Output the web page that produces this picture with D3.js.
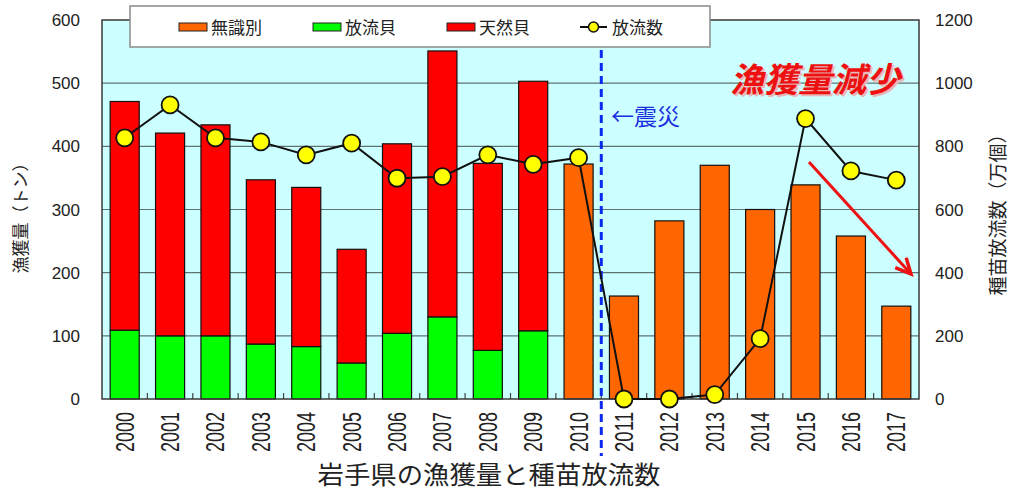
<!DOCTYPE html>
<html>
<head>
<meta charset="utf-8">
<script src="https://cdn.jsdelivr.net/npm/d3@7/dist/d3.min.js"></script>
<style>
  html, body { margin: 0; padding: 0; background: #fff; }
  svg { display: block; }
</style>
</head>
<body>
<svg id="chart" width="1013" height="492"></svg>
<script>
// Years on the category axis
const years = ['2000','2001','2002','2003','2004','2005','2006','2007','2008',
               '2009','2010','2011','2012','2013','2014','2015','2016','2017'];

// Catch (tonnes): released shells (green), wild shells (red), unidentified (orange)
const releasedShells = [109, 100, 100, 87, 83, 57, 104, 130, 77, 108,
                        null, null, null, null, null, null, null, null];
const wildShells     = [362, 321, 334, 260, 252, 180, 300, 421, 296, 395,
                        null, null, null, null, null, null, null, null];
const unidentified   = [null, null, null, null, null, null, null, null, null, null,
                        372, 163, 282, 370, 300, 339, 258, 147];

// Seedlings released (10,000 units)
const releaseCount = [827, 931, 827, 814, 773, 810, 699, 704, 773, 743,
                      764, 0, 0, 14, 191, 888, 722, 693];

const leftTicks  = [0, 100, 200, 300, 400, 500, 600];
const rightTicks = [0, 200, 400, 600, 800, 1000, 1200];

const legendLabels = ['無識別', '放流貝', '天然貝', '放流数'];

const COL_ORANGE = '#ff6600';
const COL_GREEN  = '#00ff00';
const COL_RED    = '#ff0000';
const COL_BG     = '#ccffff';

const svg = d3.select('#chart');
const plot = { left: 102, right: 919, top: 20, bottom: 399 };

const x = d3.scaleBand().domain(years)
  .range([plot.left, plot.right]).paddingInner(0.36).paddingOuter(0.18);
const yL = d3.scaleLinear().domain([0, 600]).range([plot.bottom, plot.top]);
const yR = d3.scaleLinear().domain([0, 1200]).range([plot.bottom, plot.top]);

const NUM_FONT = "'Liberation Sans', Arial, sans-serif";
const JP_FONT = "'Noto Sans CJK JP', 'Noto Sans', sans-serif";

// plot background
svg.append('rect')
  .attr('x', plot.left).attr('y', plot.top)
  .attr('width', plot.right - plot.left).attr('height', plot.bottom - plot.top)
  .attr('fill', COL_BG);

// horizontal gridlines
svg.append('g').selectAll('line')
  .data(leftTicks.filter(d => d > 0 && d < 600))
  .join('line')
  .attr('x1', plot.left).attr('x2', plot.right)
  .attr('y1', d => yL(d)).attr('y2', d => yL(d))
  .attr('stroke', '#5f7373').attr('stroke-width', 1.2);

// category boundary ticks on the bottom edge
const step = x.step();
svg.append('g').selectAll('line')
  .data(years.slice(1))
  .join('line')
  .attr('x1', d => x(d) - step * x.paddingInner() / 2)
  .attr('x2', d => x(d) - step * x.paddingInner() / 2)
  .attr('y1', plot.bottom).attr('y2', plot.bottom - 6)
  .attr('stroke', '#444').attr('stroke-width', 1.2);

// stacked bars
const bars = svg.append('g');
years.forEach((yr, i) => {
  if (releasedShells[i] != null) {
    bars.append('rect')
      .attr('x', x(yr)).attr('width', x.bandwidth())
      .attr('y', yL(releasedShells[i])).attr('height', yL(0) - yL(releasedShells[i]))
      .attr('fill', COL_GREEN).attr('stroke', '#111').attr('stroke-width', 1.2);
  }
  if (wildShells[i] != null) {
    const base = releasedShells[i] || 0;
    bars.append('rect')
      .attr('x', x(yr)).attr('width', x.bandwidth())
      .attr('y', yL(base + wildShells[i])).attr('height', yL(base) - yL(base + wildShells[i]))
      .attr('fill', COL_RED).attr('stroke', '#111').attr('stroke-width', 1.2);
  }
  if (unidentified[i] != null) {
    bars.append('rect')
      .attr('x', x(yr)).attr('width', x.bandwidth())
      .attr('y', yL(unidentified[i])).attr('height', yL(0) - yL(unidentified[i]))
      .attr('fill', COL_ORANGE).attr('stroke', '#111').attr('stroke-width', 1.2);
  }
});

// plot frame
svg.append('rect')
  .attr('x', plot.left).attr('y', plot.top)
  .attr('width', plot.right - plot.left).attr('height', plot.bottom - plot.top)
  .attr('fill', 'none').attr('stroke', '#3a3a3a').attr('stroke-width', 1.5);

// earthquake divider between 2010 and 2011
const quakeX = x('2011') - step * x.paddingInner() / 2;
svg.append('line')
  .attr('x1', quakeX).attr('x2', quakeX)
  .attr('y1', 50).attr('y2', 456)
  .attr('stroke', '#0a2af0').attr('stroke-width', 3)
  .attr('stroke-dasharray', '8,5');

// release count line + markers
const line = d3.line()
  .x((d, i) => x(years[i]) + x.bandwidth() / 2)
  .y(d => yR(d));
svg.append('path')
  .datum(releaseCount)
  .attr('d', line)
  .attr('fill', 'none').attr('stroke', '#111').attr('stroke-width', 2);
svg.append('g').selectAll('circle')
  .data(releaseCount)
  .join('circle')
  .attr('cx', (d, i) => x(years[i]) + x.bandwidth() / 2)
  .attr('cy', d => yR(d))
  .attr('r', 8.5)
  .attr('fill', '#ffff00').attr('stroke', '#111').attr('stroke-width', 1.8);

// left axis labels
svg.append('g').selectAll('text')
  .data(leftTicks)
  .join('text')
  .attr('x', 80).attr('y', d => yL(d) + 6)
  .attr('text-anchor', 'end')
  .attr('font-family', NUM_FONT).attr('font-size', 17).attr('fill', '#222')
  .text(d => d);

// right axis labels
svg.append('g').selectAll('text')
  .data(rightTicks)
  .join('text')
  .attr('x', 935).attr('y', d => yR(d) + 6)
  .attr('text-anchor', 'start')
  .attr('font-family', NUM_FONT).attr('font-size', 17).attr('fill', '#222')
  .text(d => d);

// year labels (rotated)
svg.append('g').selectAll('text')
  .data(years)
  .join('text')
  .attr('transform', d => `translate(${x(d) + x.bandwidth() / 2 + 9},412) rotate(-90)`)
  .attr('text-anchor', 'end')
  .attr('font-family', NUM_FONT).attr('font-size', 25).attr('fill', '#222')
  .attr('textLength', 40).attr('lengthAdjust', 'spacingAndGlyphs')
  .text(d => d);

// axis titles
svg.append('text')
  .attr('transform', 'translate(27,214) rotate(-90)')
  .attr('text-anchor', 'middle')
  .attr('font-family', JP_FONT).attr('font-size', 17).attr('fill', '#222')
  .text('漁獲量（トン）');
svg.append('text')
  .attr('transform', 'translate(1005,210) rotate(-90)')
  .attr('text-anchor', 'middle')
  .attr('font-family', JP_FONT).attr('font-size', 19).attr('fill', '#222')
  .text('種苗放流数（万個）');

// bottom title
svg.append('text')
  .attr('x', 489).attr('y', 484)
  .attr('text-anchor', 'middle')
  .attr('font-family', JP_FONT).attr('font-size', 25).attr('fill', '#222')
  .attr('textLength', 343).attr('lengthAdjust', 'spacingAndGlyphs')
  .text('岩手県の漁獲量と種苗放流数');

// legend
const lg = svg.append('g');
lg.append('rect')
  .attr('x', 130).attr('y', 6).attr('width', 580).attr('height', 41)
  .attr('fill', '#fff').attr('stroke', '#8a8a8a').attr('stroke-width', 1.5);
const legendItems = [
  { label: legendLabels[0], type: 'bar', color: COL_ORANGE, sx: 179 },
  { label: legendLabels[1], type: 'bar', color: COL_GREEN,  sx: 313 },
  { label: legendLabels[2], type: 'bar', color: COL_RED,    sx: 447 },
  { label: legendLabels[3], type: 'line', sx: 580 }
];
legendItems.forEach(it => {
  if (it.type === 'bar') {
    lg.append('rect')
      .attr('x', it.sx).attr('y', 23).attr('width', 28).attr('height', 8)
      .attr('fill', it.color).attr('stroke', '#222').attr('stroke-width', 1);
  } else {
    lg.append('line')
      .attr('x1', it.sx).attr('x2', it.sx + 27).attr('y1', 27).attr('y2', 27)
      .attr('stroke', '#111').attr('stroke-width', 2);
    lg.append('circle')
      .attr('cx', it.sx + 13.5).attr('cy', 27).attr('r', 5)
      .attr('fill', '#ffff00').attr('stroke', '#111').attr('stroke-width', 1.5);
  }
  lg.append('text')
    .attr('x', it.sx + 32).attr('y', 33.5)
    .attr('font-family', JP_FONT).attr('font-size', 17).attr('fill', '#222')
    .text(it.label);
});

// annotation: earthquake marker
svg.append('text')
  .attr('x', 611).attr('y', 125)
  .attr('font-family', JP_FONT).attr('font-size', 23).attr('fill', '#1a2ee0')
  .text('←震災');

// annotation: catch decline
svg.append('text')
  .attr('x', 732).attr('y', 94)
  .attr('font-family', JP_FONT).attr('font-size', 34).attr('font-weight', 'bold')
  .attr('font-style', 'italic').attr('fill', '#e8b8b8')
  .text('漁獲量減少');
svg.append('text')
  .attr('x', 730).attr('y', 92)
  .attr('font-family', JP_FONT).attr('font-size', 34).attr('font-weight', 'bold')
  .attr('font-style', 'italic').attr('fill', '#ee1111')
  .text('漁獲量減少');

// downward trend arrow
const ax1 = 809, ay1 = 162, ax2 = 911, ay2 = 274;
svg.append('line')
  .attr('x1', ax1).attr('y1', ay1).attr('x2', ax2).attr('y2', ay2)
  .attr('stroke', '#ee1111').attr('stroke-width', 3);
const ang = Math.atan2(ay2 - ay1, ax2 - ax1);
const headLen = 17, spread = 0.45;
svg.append('path')
  .attr('d', `M${ax2 - headLen * Math.cos(ang - spread)},${ay2 - headLen * Math.sin(ang - spread)}` +
             `L${ax2},${ay2}` +
             `L${ax2 - headLen * Math.cos(ang + spread)},${ay2 - headLen * Math.sin(ang + spread)}`)
  .attr('fill', 'none').attr('stroke', '#ee1111').attr('stroke-width', 3.5)
  .attr('stroke-linejoin', 'miter');
</script>
</body>
</html>
